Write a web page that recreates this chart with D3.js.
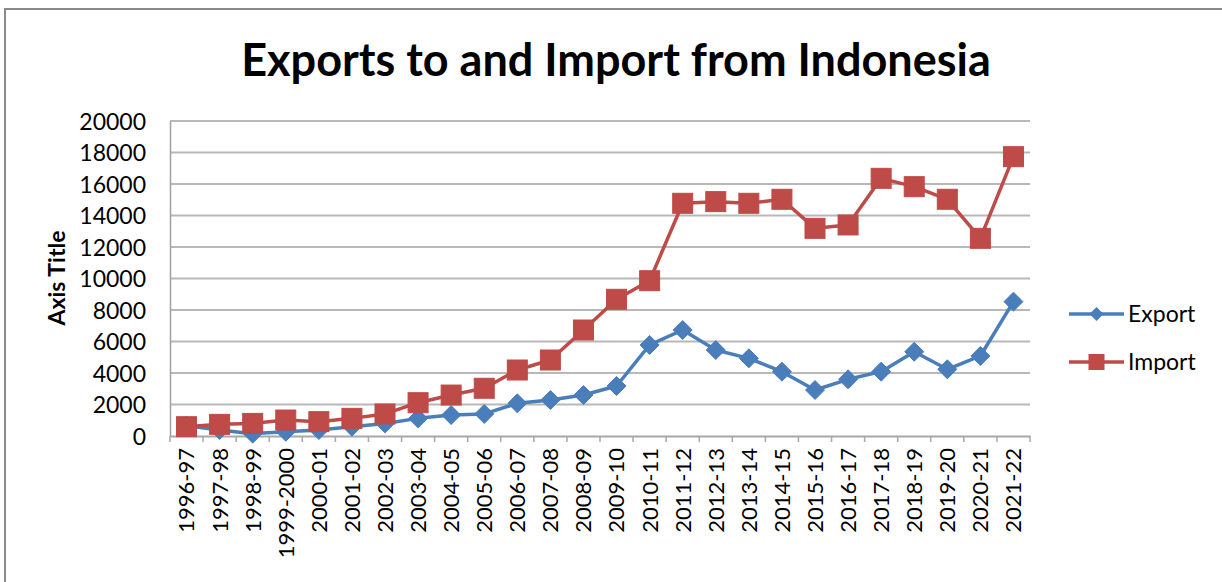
<!DOCTYPE html>
<html>
<head>
<meta charset="utf-8">
<script src="https://cdn.jsdelivr.net/npm/d3@7/dist/d3.min.js"></script>
<style>
  html, body { margin: 0; padding: 0; background: #fff; }
  svg { display: block; }
  text { font-family: Lato, "Open Sans", sans-serif; fill: #000; }
</style>
</head>
<body>
<svg id="chart" width="1222" height="582"></svg>
<script>
const categories = ["1996-97","1997-98","1998-99","1999-2000","2000-01","2001-02","2002-03","2003-04","2004-05","2005-06","2006-07","2007-08","2008-09","2009-10","2010-11","2011-12","2012-13","2013-14","2014-15","2015-16","2016-17","2017-18","2018-19","2019-20","2020-21","2021-22"];
const exportValues = [650, 380, 150, 270, 380, 590, 800, 1120, 1330, 1400, 2075, 2285, 2600, 3175, 5780, 6730, 5460, 4930, 4085, 2920, 3600, 4085, 5350, 4235, 5080, 8530];
const importValues = [590, 740, 800, 1015, 910, 1120, 1400, 2115, 2600, 3030, 4190, 4825, 6730, 8680, 9860, 14775, 14880, 14775, 15030, 13185, 13400, 16360, 15830, 15030, 12550, 17735];
const yTicks = [0, 2000, 4000, 6000, 8000, 10000, 12000, 14000, 16000, 18000, 20000];
const seriesNames = ["Export", "Import"];
const titleText = "Exports to and Import from Indonesia";
const yAxisTitle = "Axis Title";

const svg = d3.select("#chart");
const colors = { Export: "#4A7EBB", Import: "#BE4B48" };

// frame
svg.append("rect").attr("x", 5).attr("y", 9).attr("width", 1240).attr("height", 620)
  .attr("fill", "none").attr("stroke", "#8a8a8a").attr("stroke-width", 2);

const plot = { left: 170, right: 1030, top: 121, bottom: 436 };

const x = d3.scaleBand().domain(categories).range([plot.left, plot.right]).padding(0);
const y = d3.scaleLinear().domain([0, 20000]).range([plot.bottom, plot.top]);
const cx = d => x(d) + x.bandwidth() / 2;

// gridlines
svg.append("g").selectAll("line").data(yTicks.filter(t => t > 0)).join("line")
  .attr("x1", plot.left).attr("x2", plot.right)
  .attr("y1", d => y(d)).attr("y2", d => y(d))
  .attr("stroke", "#b8b8b8").attr("stroke-width", 2);

// y axis
const yAxis = svg.append("g").attr("transform", `translate(${plot.left},0)`)
  .call(d3.axisLeft(y).tickValues(yTicks).tickSize(0).tickPadding(24).tickFormat(d3.format("d")));
yAxis.select(".domain").attr("stroke", "#a0a0a0").attr("stroke-width", 1.5);
yAxis.selectAll("text").style("font-size", "23px").attr("fill", "#111").attr("dy", "0.35em");

// x axis
const xAxis = svg.append("g").attr("transform", `translate(0,${plot.bottom})`)
  .call(d3.axisBottom(x).tickSize(0).tickPadding(0));
xAxis.select(".domain").attr("stroke", "#a8a8a8").attr("stroke-width", 2);
xAxis.selectAll("text")
  .style("font-size", "22px").attr("fill", "#111")
  .attr("text-anchor", "end")
  .attr("transform", "rotate(-90)")
  .attr("x", -12).attr("y", 0).attr("dy", "0.36em");
// boundary ticks
svg.append("g").selectAll("line").data(categories.concat(["_end"])).join("line")
  .attr("x1", (d, i) => plot.left + i * x.bandwidth())
  .attr("x2", (d, i) => plot.left + i * x.bandwidth())
  .attr("y1", plot.bottom).attr("y2", plot.bottom + 6)
  .attr("stroke", "#a8a8a8").attr("stroke-width", 1.5);

// lines
const line = d3.line().x((d, i) => cx(categories[i])).y(d => y(d));
svg.append("path").datum(exportValues).attr("d", line)
  .attr("fill", "none").attr("stroke", colors.Export).attr("stroke-width", 3.5).attr("stroke-linejoin", "round");
svg.append("path").datum(importValues).attr("d", line)
  .attr("fill", "none").attr("stroke", colors.Import).attr("stroke-width", 3.5).attr("stroke-linejoin", "round");

// markers
const diamond = s => `M0,${-s}L${s},0L0,${s}L${-s},0Z`;
svg.append("g").selectAll("path").data(exportValues).join("path")
  .attr("d", diamond(9.5))
  .attr("transform", (d, i) => `translate(${cx(categories[i])},${y(d)})`)
  .attr("fill", colors.Export).attr("stroke", colors.Export).attr("stroke-width", 1);
svg.append("g").selectAll("rect").data(importValues).join("rect")
  .attr("x", (d, i) => cx(categories[i]) - 10).attr("y", d => y(d) - 10)
  .attr("width", 20).attr("height", 20)
  .attr("fill", colors.Import).attr("stroke", colors.Import).attr("stroke-width", 1);

// title
svg.append("text").attr("x", 616).attr("y", 76).attr("text-anchor", "middle")
  .style("font-size", "45px").style("font-weight", "bold").text(titleText);

// y axis title
svg.append("text").attr("transform", "translate(65,278) rotate(-90)").attr("text-anchor", "middle")
  .style("font-size", "23px").style("font-weight", "bold").text(yAxisTitle);

// legend
const legendY = [314, 362];
seriesNames.forEach((name, i) => {
  const g = svg.append("g").attr("transform", `translate(1069,${legendY[i]})`);
  g.append("line").attr("x1", 0).attr("x2", 55).attr("y1", 0).attr("y2", 0)
    .attr("stroke", colors[name]).attr("stroke-width", 3.5);
  if (name === "Export") {
    g.append("path").attr("d", diamond(7)).attr("transform", "translate(27.5,0)").attr("fill", colors[name]);
  } else {
    g.append("rect").attr("x", 27.5 - 8).attr("y", -8).attr("width", 16).attr("height", 16).attr("fill", colors[name]);
  }
  g.append("text").attr("x", 59).attr("y", 0).attr("dy", "0.36em")
    .style("font-size", "23px").attr("fill", "#111").text(name);
});
</script>
</body>
</html>
